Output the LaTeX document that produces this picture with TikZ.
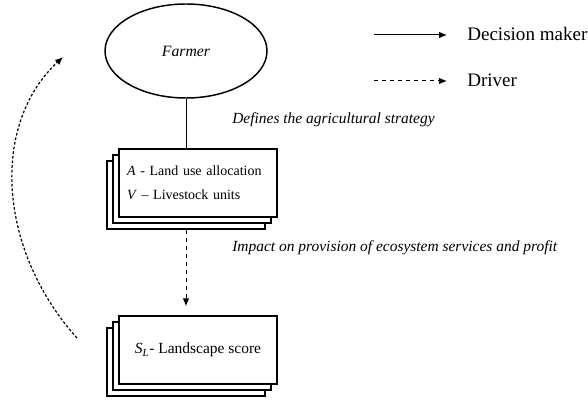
\documentclass[tikz,border=0pt]{standalone}
\usepackage{fontspec}
\setmainfont{Liberation Serif}
\usetikzlibrary{shapes.geometric,shadows,arrows.meta,positioning}

\begin{document}
\begin{tikzpicture}[
  x=0.75pt, y=-0.75pt,
  actor/.style={draw, ellipse, line width=1.1pt, minimum width=121.5pt, minimum height=70.5pt, inner sep=0pt, font=\fontsize{11.8}{14}\selectfont\itshape},
  card/.style={draw, fill=white, line width=1.1pt, minimum width=118.5pt, minimum height=51pt, inner sep=0pt, font=\fontsize{10.5}{12.6}\selectfont,
    double copy shadow={shadow xshift=-4.5pt, shadow yshift=-4.5pt}},
  note/.style={inner sep=0pt, font=\fontsize{11.6}{14}\selectfont\itshape},
  legend/.style={inner sep=0pt, font=\fontsize{14.3}{17}\selectfont},
  link/.style={line width=0.75pt},
  decider/.style={line width=0.75pt, -{Latex[length=6pt,width=5pt]}},
  driver/.style={line width=0.75pt, dashed, -{Latex[length=6pt,width=5pt]}}
]
  \useasboundingbox (0,0) rectangle (588,402);

  \node[actor] (farmer) at (186,51) {Farmer};
  \node[card, align=left, text width=106.5pt, inner xsep=6pt] (alloc) at (198,183)
    {\textit{A} - Land use allocation\\[5.5pt]\textit{V} -- Livestock units};
  \node[card, font=\fontsize{11.6}{14}\selectfont] (score) at (198,350) {\textit{S}\textsubscript{\textit{L}}- Landscape score};

  \node[note, anchor=base west] (define) at (232,124) {Defines the agricultural strategy};
  \node[note, anchor=base west] (impact) at (232,252) {Impact on provision of ecosystem services and profit};

  % legend
  \coordinate (dmtail) at (374,35);
  \coordinate (dmhead) at (447,35);
  \node[legend, anchor=base west] (dm) at (467,41) {Decision maker};
  \coordinate (drtail) at (374,81);
  \coordinate (drhead) at (447,81);
  \node[legend, anchor=base west] (dr) at (467,87) {Driver};

  \draw[decider] (dmtail) -- (dmhead);
  \draw[driver] (drtail) -- (drhead);

  \draw[link] (farmer.south) -- (farmer.south |- alloc.north);
  \draw[driver] ([yshift=-9.5pt]alloc.south -| farmer.south) -- ([yshift=6.75pt]score.north -| farmer.south);

  % feedback loop
  \coordinate (loopstart) at (77,338);
  \coordinate (loopend) at (63,57);
  \draw[driver, line width=0.9pt, dash pattern=on 2pt off 1.5pt] (loopstart) .. controls (-2,250) and (-10,125) .. (loopend);
\end{tikzpicture}
\end{document}
